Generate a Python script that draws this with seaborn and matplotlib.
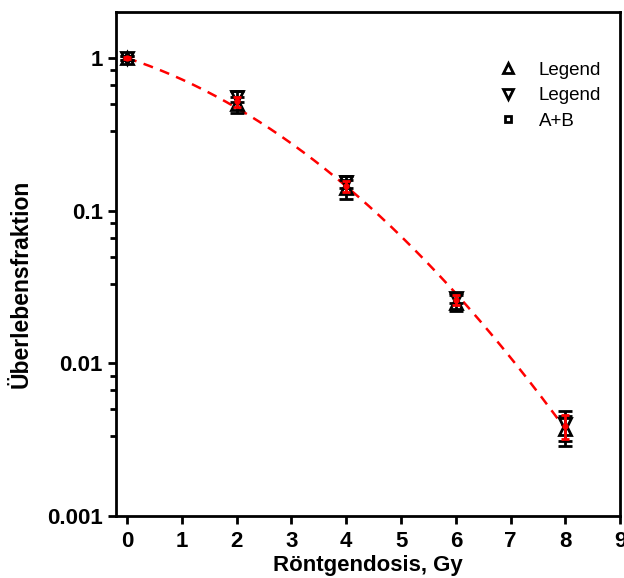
import numpy as np
import matplotlib
matplotlib.use('Agg')
import matplotlib.pyplot as plt
import seaborn as sns
from matplotlib.lines import Line2D
from matplotlib.ticker import FixedLocator, NullFormatter

# Daten
dose = [0, 2, 4, 6, 8]
surv_up = [1.0, 0.50, 0.14, 0.025, 0.0037]       # Legend (Dreieck oben)
err_up = [0.03, 0.06, 0.02, 0.003, 0.0008]
surv_down = [1.0, 0.56, 0.155, 0.027, 0.0040]    # Legend (Dreieck unten)
err_down = [0.03, 0.045, 0.015, 0.002, 0.0009]
surv_ab = [1.0, 0.52, 0.145, 0.026, 0.0039]      # A+B
err_ab = [0.02, 0.04, 0.012, 0.002, 0.0007]
legend_labels = ['Legend', 'Legend', 'A+B']

sns.set_style('ticks')
plt.rcParams['font.family'] = ['Liberation Sans', 'DejaVu Sans']
plt.rcParams['text.color'] = 'black'
plt.rcParams['axes.labelcolor'] = 'black'

fig = plt.figure(figsize=(6.24, 5.78), dpi=100)
ax = fig.add_axes([0.186, 0.107, 0.808, 0.872])

# LQ-Modell an die A+B-Werte angepasst: ln S = -a*D - b*D^2
D = np.array(dose, dtype=float)
A = np.column_stack([D, D ** 2])
coef, *_ = np.linalg.lstsq(A, -np.log(surv_ab), rcond=None)
d_fit = np.linspace(0, 8, 200)
s_fit = np.exp(-coef[0] * d_fit - coef[1] * d_fit ** 2)
sns.lineplot(x=d_fit, y=s_fit, ax=ax, color='red', lw=1.8, zorder=2)
ax.lines[-1].set_dashes([4, 3])

ax.errorbar(dose, surv_up, yerr=err_up, fmt='^', mfc='none', mec='black',
            mew=2, ms=8, ecolor='black', capsize=5, elinewidth=2,
            capthick=2.5, zorder=4)
ax.errorbar(dose, surv_down, yerr=err_down, fmt='v', mfc='none', mec='black',
            mew=2, ms=8, ecolor='black', capsize=5, elinewidth=2,
            capthick=2.5, zorder=4)
ax.errorbar(dose, surv_ab, yerr=err_ab, fmt='o', color='red', ms=3.5,
            capsize=3, elinewidth=2, capthick=2, zorder=5)

ax.set_yscale('log')
ax.set_ylim(0.001, 2)
ax.set_xlim(-0.2, 9)
ax.set_xticks(range(0, 10))
ax.set_yticks([0.001, 0.01, 0.1, 1])
ax.set_yticklabels(['0.001', '0.01', '0.1', '1'])
minors = [10.0 ** k * f for k in range(-2, 1) for f in (1 / 1.2, 1 / 1.5, 0.5, 1 / 3)]
ax.yaxis.set_minor_locator(FixedLocator(minors))
ax.yaxis.set_minor_formatter(NullFormatter())
ax.xaxis.set_minor_locator(FixedLocator([]))

for s in ax.spines.values():
    s.set_linewidth(2)
    s.set_color('black')
ax.tick_params(axis='both', which='major', length=6, width=2, labelsize=16,
               color='black', labelcolor='black')
ax.tick_params(axis='x', which='major', pad=5)
ax.tick_params(axis='y', which='minor', length=4, width=2, color='black')
for lab in ax.get_xticklabels() + ax.get_yticklabels():
    lab.set_fontweight('bold')

ax.set_xlabel('Röntgendosis, Gy', fontsize=16, fontweight='bold', labelpad=2)
ax.set_ylabel('Überlebensfraktion', fontsize=16.5, fontweight='bold')
ax.yaxis.set_label_coords(-0.166, 0.46)

handles = [
    Line2D([], [], marker='^', ls='none', mfc='none', mec='black', mew=2, ms=7),
    Line2D([], [], marker='v', ls='none', mfc='none', mec='black', mew=2, ms=7),
    Line2D([], [], marker='s', ls='none', mfc='white', mec='black', mew=2, ms=4),
]
ax.legend(handles, legend_labels, loc='upper right', frameon=False,
          fontsize=13.5, handletextpad=0.6, labelspacing=0.45,
          bbox_to_anchor=(0.995, 0.935), labelcolor='black')

fig.savefig('out.png', dpi=100)
